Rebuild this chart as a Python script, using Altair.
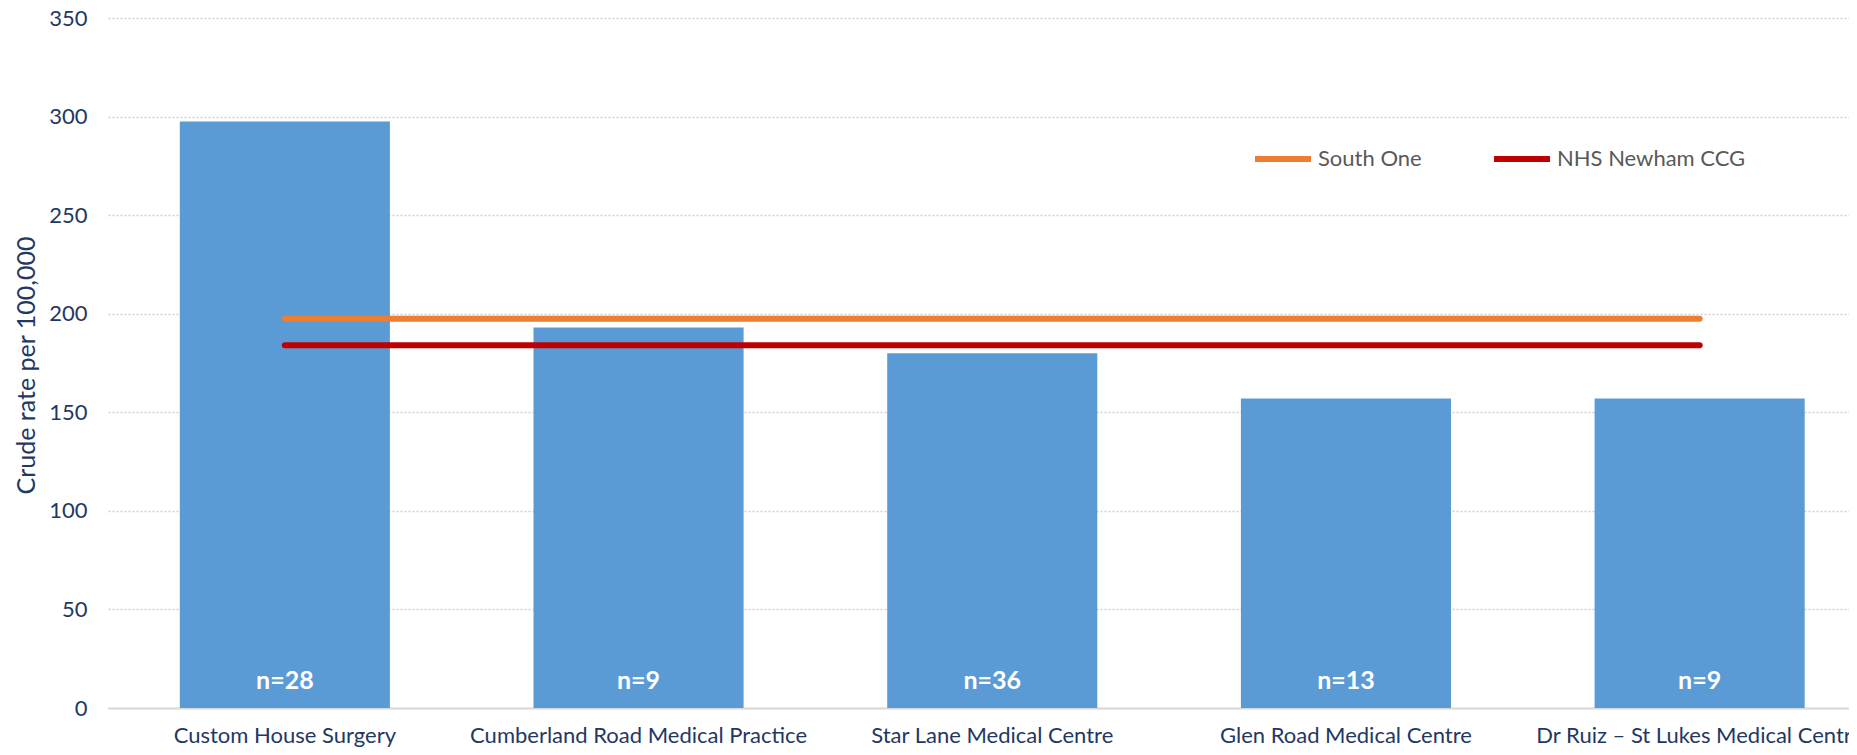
import altair as alt
import pandas as pd

practices = [
    "Custom House Surgery",
    "Cumberland Road Medical Practice",
    "Star Lane Medical Centre",
    "Glen Road Medical Centre",
    "Dr Ruiz – St Lukes Medical Centre",
]
rates = [297.5, 193, 180, 157, 157]
counts = ["n=28", "n=9", "n=36", "n=13", "n=9"]
benchmark_names = ["South One", "NHS Newham CCG"]
benchmark_values = [197.5, 184]
benchmark_colors = ["#ED7D31", "#C00000"]
y_ticks = [0, 50, 100, 150, 200, 250, 300, 350]

NAVY = "#1F3864"
FONT = "Lato"

bars_df = pd.DataFrame({"practice": practices, "rate": rates, "n": counts})
lines_df = pd.DataFrame(
    [
        {"practice": p, "series": s, "value": v}
        for s, v in zip(benchmark_names, benchmark_values)
        for p in practices
    ]
)

x_enc = alt.X(
    "practice:N",
    sort=practices,
    scale=alt.Scale(range=[0, 1768.5], paddingInner=0.406, paddingOuter=0.203),
    axis=alt.Axis(
        title=None,
        labelAngle=0,
        labelFont=FONT,
        labelFontSize=22,
        labelColor=NAVY,
        labelPadding=17,
        labelLimit=1000,
        labelOverlap=False,
        ticks=False,
        domain=True,
        domainColor="#D9D9D9",
        domainWidth=2,
        grid=False,
    ),
)

y_scale = alt.Scale(domain=[0, 350], nice=False, zero=True)

bars = alt.Chart(bars_df).mark_bar(color="#5B9BD5").encode(
    x=x_enc,
    y=alt.Y(
        "rate:Q",
        scale=y_scale,
        axis=alt.Axis(
            values=y_ticks,
            title="Crude rate per 100,000",
            titleFont=FONT,
            titleFontSize=25,
            titleFontWeight="normal",
            titleColor=NAVY,
            titleAngle=270,
            titleX=-82,
            titleY=347,
            titleAlign="center",
            titleBaseline="middle",
            labelFont=FONT,
            labelFontSize=22,
            labelColor=NAVY,
            labelPadding=21,
            ticks=False,
            domain=False,
            grid=True,
            gridColor="#D0D0D0",
            gridDash=[2, 2],
            gridWidth=1.5,
        ),
    ),
)

labels = alt.Chart(bars_df).mark_text(
    color="white",
    font=FONT,
    fontSize=25,
    fontWeight="bold",
    baseline="alphabetic",
    align="center",
    dy=-19,
).encode(
    x=alt.X("practice:N", sort=practices),
    y=alt.datum(0),
    text="n:N",
)

lines = alt.Chart(lines_df).mark_line(strokeWidth=6, strokeCap="round").encode(
    x=alt.X("practice:N", sort=practices),
    y=alt.Y("value:Q", scale=y_scale),
    color=alt.Color(
        "series:N",
        sort=benchmark_names,
        scale=alt.Scale(domain=benchmark_names, range=benchmark_colors),
        legend=alt.Legend(
            title=None,
            orient="none",
            legendX=1144,
            legendY=110,
            direction="horizontal",
            symbolType="stroke",
            symbolSize=3136,
            symbolStrokeWidth=6,
            labelFont=FONT,
            labelFontSize=22,
            labelColor="#595959",
            labelOffset=4,
            labelLimit=500,
            columnPadding=60,
            padding=0,
        ),
    ),
    detail="series:N",
)

chart = (
    alt.layer(bars, labels, lines)
    .properties(
        width=1741,
        height=690,
        autosize=alt.AutoSizeParams(type="none"),
        padding={"left": 100, "top": 10, "right": 0, "bottom": 39},
        background="white",
    )
    .configure_view(stroke=None)
)

chart.save("out.html", embed_options={"renderer": "svg", "actions": False})
